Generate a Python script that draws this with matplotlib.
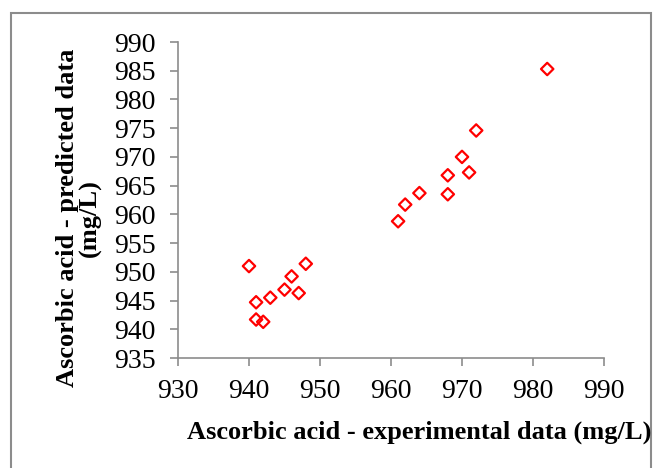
import matplotlib
matplotlib.use("Agg")
import matplotlib.pyplot as plt
from matplotlib.patches import Rectangle

experimental = [982, 972, 970, 971, 968, 968, 964, 962, 961,
                948, 940, 946, 945, 947, 943, 941, 941, 942]
predicted = [985.3, 974.6, 970.0, 967.3, 966.8, 963.5, 963.7, 961.7, 958.8,
             951.4, 951.0, 949.2, 946.9, 946.3, 945.5, 944.7, 941.7, 941.3]
x_ticks = [930, 940, 950, 960, 970, 980, 990]
y_ticks = [935, 940, 945, 950, 955, 960, 965, 970, 975, 980, 985, 990]

plt.rcParams['font.family'] = ['Liberation Serif', 'DejaVu Serif']

fig = plt.figure(figsize=(6.54, 4.68), dpi=100)
ax = fig.add_axes([178/654, 1-358/468, (604-178)/654, (358-42)/468])

ax.scatter(experimental, predicted, marker='D', s=40, facecolors='none',
           edgecolors='#ff0000', linewidths=1.6, zorder=3)

ax.set_xlim(930, 990)
ax.set_ylim(935, 990)
ax.set_xticks(x_ticks)
ax.set_yticks(y_ticks)
for s in ['top', 'right']:
    ax.spines[s].set_visible(False)
for s in ['left', 'bottom']:
    ax.spines[s].set_color('#8c8c8c')
    ax.spines[s].set_linewidth(1.2)
ax.tick_params(axis='both', direction='out', length=6, width=1.2,
               color='#8c8c8c', labelsize=20)
ax.tick_params(axis='x', pad=9)
ax.tick_params(axis='y', pad=10)

fig.text(419/654, 1-432/468, 'Ascorbic acid - experimental data (mg/L)',
         ha='center', va='center', fontsize=19, fontweight='bold')
fig.text(79/654, 1-218/468, 'Ascorbic acid - predicted data\n(mg/L)',
         ha='center', va='center', rotation=90, fontsize=19,
         fontweight='bold', multialignment='center', linespacing=0.95)

fig.add_artist(Rectangle((11/654, -0.02), 640/654, 1-13/468+0.02,
                         transform=fig.transFigure, fill=False,
                         edgecolor='#8c8c8c', linewidth=1.5))

fig.savefig('out.png', dpi=100)
